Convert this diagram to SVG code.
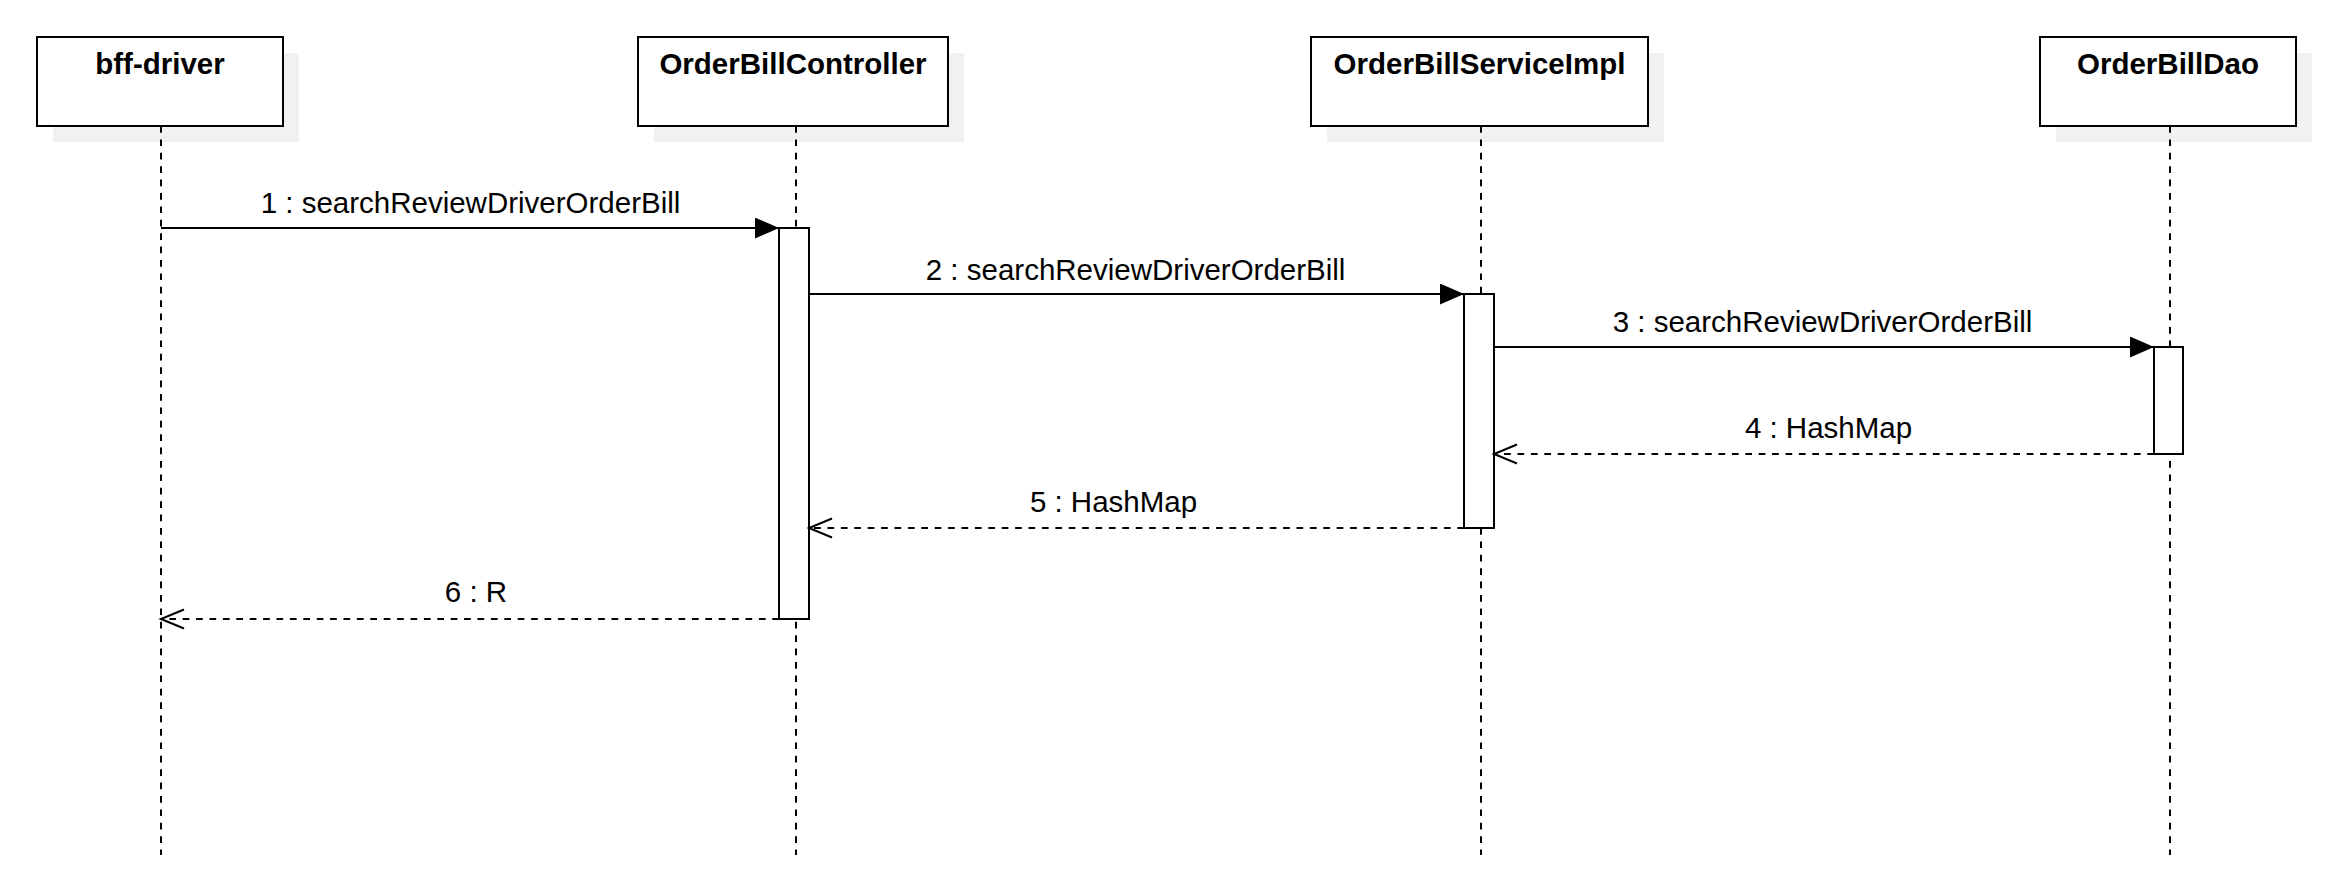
<svg xmlns="http://www.w3.org/2000/svg" width="2340" height="890" viewBox="0 0 2340 890">
  <style>
    .shadow { fill: #f1f1f1; stroke: none; }
    .box { fill: #ffffff; stroke: #000000; stroke-width: 2; }
    .title { font-family: "Liberation Sans", Arial, Helvetica, sans-serif; font-size: 29.5px; font-weight: bold; fill: #000000; text-anchor: middle; }
    .life { stroke: #000000; stroke-width: 2; stroke-dasharray: 6.7 6.7; fill: none; }
    .act { fill: #ffffff; stroke: #000000; stroke-width: 2; }
    .call { stroke: #000000; stroke-width: 2; fill: none; marker-end: url(#filled); }
    .ret { stroke: #000000; stroke-width: 2; fill: none; stroke-dasharray: 6.7 6.7; marker-end: url(#open); }
    .lbl { font-family: "Liberation Sans", Arial, Helvetica, sans-serif; font-size: 29.5px; fill: #000000; text-anchor: middle; }
  </style>
  <defs>
    <marker id="filled" markerWidth="24" markerHeight="21" refX="24" refY="10.5" orient="auto" markerUnits="userSpaceOnUse">
      <path d="M0,0 L24,10.5 L0,21 Z" fill="#000000"/>
    </marker>
    <marker id="open" markerWidth="28" markerHeight="26" refX="25" refY="13" orient="auto" markerUnits="userSpaceOnUse">
      <path d="M2,3.5 L25,13 L2,22.5" fill="none" stroke="#000000" stroke-width="2"/>
    </marker>
  </defs>
  <rect x="0" y="0" width="2340" height="890" fill="#ffffff"/>

  <g id="bff-driver">
    <rect class="shadow" x="53" y="53" width="246" height="89"/>
    <rect class="box" x="37" y="37" width="246" height="89"/>
    <text class="title" x="160" y="73.5">bff-driver</text>
    <line class="life" x1="161" y1="126" x2="161" y2="855"/>
  </g>

  <g id="OrderBillController">
    <rect class="shadow" x="654" y="53" width="310" height="89"/>
    <rect class="box" x="638" y="37" width="310" height="89"/>
    <text class="title" x="793" y="73.5">OrderBillController</text>
    <line class="life" x1="796" y1="126" x2="796" y2="855"/>
  </g>

  <g id="OrderBillServiceImpl">
    <rect class="shadow" x="1327" y="53" width="337" height="89"/>
    <rect class="box" x="1311" y="37" width="337" height="89"/>
    <text class="title" x="1479.5" y="73.5">OrderBillServiceImpl</text>
    <line class="life" x1="1481" y1="126" x2="1481" y2="855"/>
  </g>

  <g id="OrderBillDao">
    <rect class="shadow" x="2056" y="53" width="256" height="89"/>
    <rect class="box" x="2040" y="37" width="256" height="89"/>
    <text class="title" x="2168" y="73.5">OrderBillDao</text>
    <line class="life" x1="2170" y1="126" x2="2170" y2="855"/>
  </g>

  <g id="activation-controller">
    <rect class="act" x="779" y="228" width="30" height="391"/>
  </g>
  <g id="activation-service">
    <rect class="act" x="1464" y="294" width="30" height="234"/>
  </g>
  <g id="activation-dao">
    <rect class="act" x="2154" y="347" width="29" height="107"/>
  </g>

  <g id="connectors">
    <line class="call" x1="161" y1="228" x2="779" y2="228"/>
    <text class="lbl" x="470.5" y="213.3">1 : searchReviewDriverOrderBill</text>

    <line class="call" x1="809" y1="294" x2="1464" y2="294"/>
    <text class="lbl" x="1135.6" y="279.5">2 : searchReviewDriverOrderBill</text>

    <line class="call" x1="1494" y1="347" x2="2154" y2="347"/>
    <text class="lbl" x="1822.5" y="331.7">3 : searchReviewDriverOrderBill</text>

    <line class="ret" x1="2154" y1="454" x2="1494" y2="454"/>
    <text class="lbl" x="1828.5" y="438.3">4 : HashMap</text>

    <line class="ret" x1="1464" y1="528" x2="809" y2="528"/>
    <text class="lbl" x="1113.5" y="511.7">5 : HashMap</text>

    <line class="ret" x1="779" y1="619" x2="161" y2="619"/>
    <text class="lbl" x="476" y="601.7">6 : R</text>
  </g>
</svg>
